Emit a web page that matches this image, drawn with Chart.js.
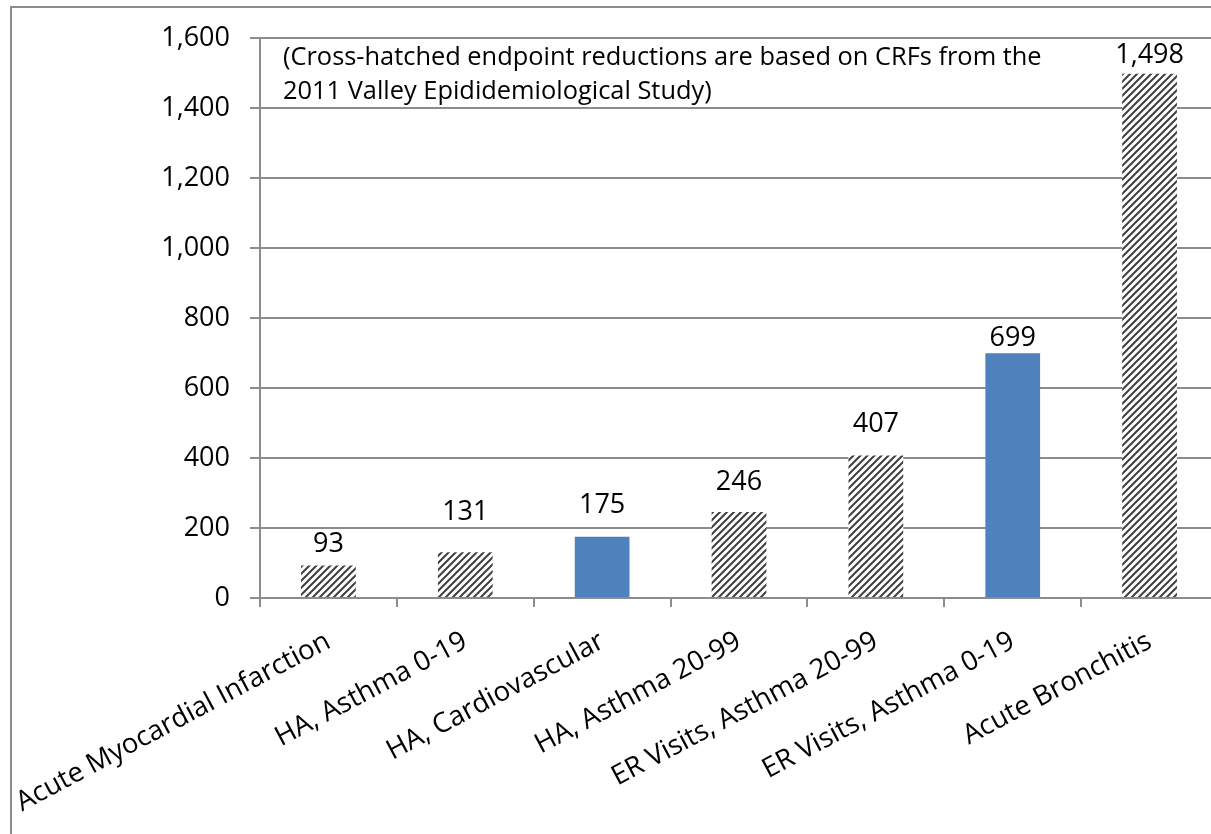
<!DOCTYPE html>
<html>
<head>
<meta charset="utf-8">
<script src="https://cdn.jsdelivr.net/npm/chart.js@4"></script>
<style>
  html, body { margin: 0; padding: 0; background: #fff; }
  #wrap { position: relative; width: 1211px; height: 834px; overflow: hidden; }
  #frame { position: absolute; left: 10px; top: 6px; width: 1300px; height: 900px;
           border-left: 2px solid #8c8c8c; border-top: 2px solid #8c8c8c; }
  #c { position: absolute; left: 0; top: 0; }
</style>
</head>
<body>
<div id="wrap">
  <div id="frame"></div>
  <canvas id="c" width="1218" height="834"></canvas>
</div>
<script>
// ---- data ----
const categories = [
  "Acute Myocardial Infarction",
  "HA, Asthma 0-19",
  "HA, Cardiovascular",
  "HA, Asthma 20-99",
  "ER Visits, Asthma 20-99",
  "ER Visits, Asthma 0-19",
  "Acute Bronchitis"
];
const reductions = [93, 131, 175, 246, 407, 699, 1498];
const crossHatched = [true, true, false, true, true, false, true];
const yTicks = [0, 200, 400, 600, 800, 1000, 1200, 1400, 1600];
const noteLines = [
  "(Cross-hatched endpoint reductions are based on CRFs from the",
  "2011 Valley Epididemiological Study)"
];

// ---- styles ----
const FONT = "'Open Sans', sans-serif";
const labelLift = [21, 40, 31, 30, 31, 15, 18]; // label centre above bar top (px)

function makeHatch() {
  const s = 7;
  const p = document.createElement('canvas');
  p.width = s; p.height = s;
  const g = p.getContext('2d');
  g.fillStyle = '#ffffff';
  g.fillRect(0, 0, s, s);
  g.strokeStyle = '#404040';
  g.lineWidth = 2.0;
  g.lineCap = 'square';
  g.beginPath();
  g.moveTo(0, s); g.lineTo(s, 0);
  g.moveTo(-s / 2, s / 2); g.lineTo(s / 2, -s / 2);
  g.moveTo(s / 2, s * 1.5); g.lineTo(s * 1.5, s / 2);
  g.stroke();
  return document.getElementById('c').getContext('2d').createPattern(p, 'repeat');
}
const hatch = makeHatch();
const BLUE = '#4f81bd';
const fills = crossHatched.map(h => h ? hatch : BLUE);

const fmt = v => v.toLocaleString('en-US');

const dataLabels = {
  id: 'dataLabels',
  afterDatasetsDraw(chart) {
    const ctx = chart.ctx;
    const meta = chart.getDatasetMeta(0);
    ctx.save();
    ctx.font = `27px ${FONT}`;
    ctx.fillStyle = '#000';
    ctx.textAlign = 'center';
    ctx.textBaseline = 'middle';
    meta.data.forEach((bar, i) => {
      ctx.fillText(fmt(reductions[i]), bar.x, bar.y - labelLift[i]);
    });
    ctx.restore();
  }
};

const note = {
  id: 'note',
  afterDraw(chart) {
    const ctx = chart.ctx;
    const a = chart.chartArea;
    ctx.save();
    ctx.font = `25.4px ${FONT}`;
    ctx.fillStyle = '#000';
    ctx.textAlign = 'left';
    ctx.textBaseline = 'middle';
    noteLines.forEach((t, i) => ctx.fillText(t, a.left + 23, a.top + 20 + i * 34));
    ctx.restore();
  }
};

new Chart(document.getElementById('c'), {
  type: 'bar',
  data: {
    labels: categories,
    datasets: [{
      data: reductions,
      backgroundColor: fills,
      borderWidth: 0,
      barPercentage: 0.4,
      categoryPercentage: 1.0
    }]
  },
  options: {
    responsive: false,
    animation: false,
    devicePixelRatio: 1,
    layout: { padding: { top: 38, left: 0, right: 0, bottom: 0 } },
    plugins: { legend: { display: false }, tooltip: { enabled: false } },
    scales: {
      x: {
        grid: { offset: true, drawOnChartArea: false, drawTicks: true, tickLength: 9,
                color: '#8c8c8c', lineWidth: 2 },
        border: { color: '#8c8c8c', width: 2 },
        ticks: { font: { family: FONT, size: 27.5 }, color: '#000',
                 minRotation: 28, maxRotation: 28, autoSkip: false, padding: 18 },
        afterFit(s) { s.height = 834 - 598; s.paddingLeft = 0; s.paddingRight = 0; }
      },
      y: {
        min: 0, max: 1600,
        afterBuildTicks(s) { s.ticks = yTicks.map(v => ({ value: v })); },
        grid: { color: '#8c8c8c', lineWidth: 2, tickLength: 10 },
        border: { color: '#8c8c8c', width: 2 },
        ticks: { font: { family: FONT, size: 27 }, color: '#000', padding: 20,
                 callback: v => fmt(v) },
        afterFit(s) { s.width = 260; }
      }
    }
  },
  plugins: [dataLabels, note]
});
</script>
</body>
</html>
